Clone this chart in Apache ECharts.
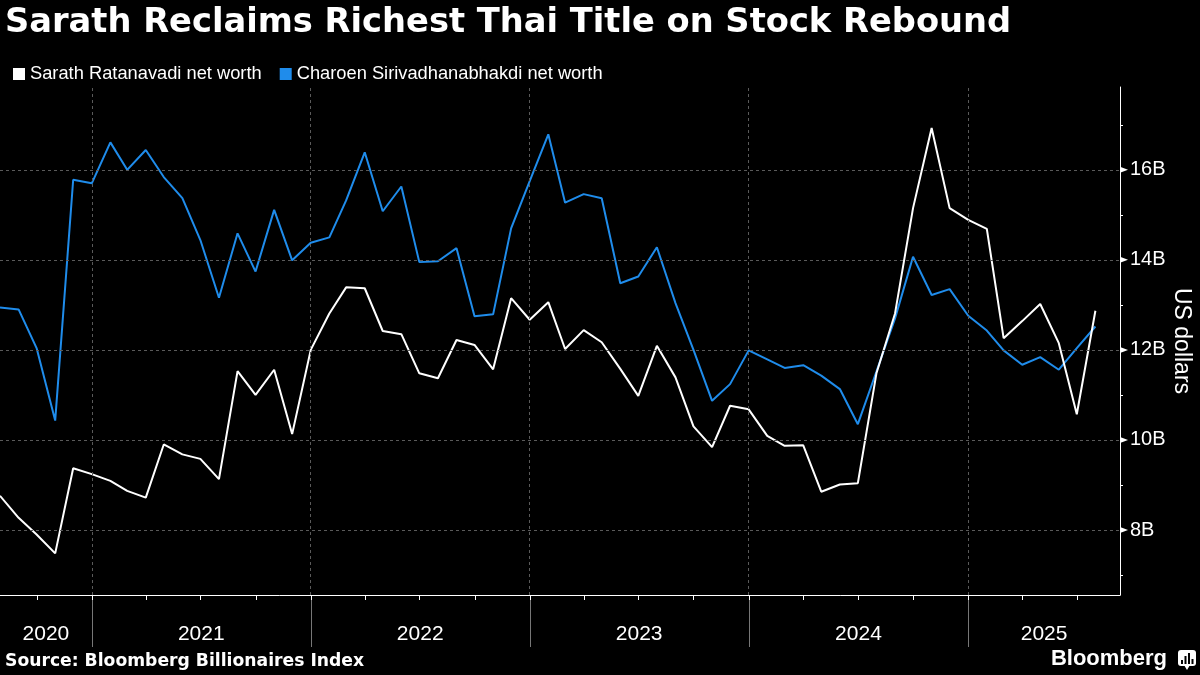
<!DOCTYPE html>
<html>
<head>
<meta charset="utf-8">
<script src="https://cdn.jsdelivr.net/npm/echarts@6/dist/echarts.min.js"></script>
<style>
html,body{margin:0;padding:0;background:#000;}
#c{width:1200px;height:675px;}
</style>
</head>
<body>
<div id="c"></div>
<script>
// ---------- data ----------
const months = [
  '2020-08-01','2020-09-01','2020-10-01','2020-11-01','2020-12-01',
  '2021-01-01','2021-02-01','2021-03-01','2021-04-01','2021-05-01','2021-06-01','2021-07-01','2021-08-01','2021-09-01','2021-10-01','2021-11-01','2021-12-01',
  '2022-01-01','2022-02-01','2022-03-01','2022-04-01','2022-05-01','2022-06-01','2022-07-01','2022-08-01','2022-09-01','2022-10-01','2022-11-01','2022-12-01',
  '2023-01-01','2023-02-01','2023-03-01','2023-04-01','2023-05-01','2023-06-01','2023-07-01','2023-08-01','2023-09-01','2023-10-01','2023-11-01','2023-12-01',
  '2024-01-01','2024-02-01','2024-03-01','2024-04-01','2024-05-01','2024-06-01','2024-07-01','2024-08-01','2024-09-01','2024-10-01','2024-11-01','2024-12-01',
  '2025-01-01','2025-02-01','2025-03-01','2025-04-01','2025-05-01','2025-06-01','2025-07-01','2025-08-01'
];
const sarath = [
  8.76, 8.27, 7.90, 7.48, 9.37,
  9.24, 9.09, 8.87, 8.72, 9.90, 9.68, 9.58, 9.13, 11.53, 11.00, 11.56, 10.13,
  12.00, 12.81, 13.39, 13.37, 12.42, 12.35, 11.48, 11.37, 12.22, 12.11, 11.57, 13.15,
  12.67, 13.06, 12.02, 12.44, 12.17, 11.58, 10.98, 12.09, 11.39, 10.30, 9.84, 10.76,
  10.68, 10.09, 9.87, 9.88, 8.85, 9.01, 9.04, 11.48, 12.81, 15.15, 16.93, 15.15,
  14.89, 14.69, 12.26, 12.64, 13.02, 12.15, 10.57, 12.87
];
const charoen = [
  12.94, 12.90, 12.04, 10.43, 15.78,
  15.70, 16.61, 16.00, 16.44, 15.84, 15.37, 14.44, 13.16, 14.59, 13.74, 15.11, 13.99,
  14.38, 14.50, 15.32, 16.39, 15.08, 15.63, 13.95, 13.97, 14.26, 12.75, 12.79, 14.70,
  15.75, 16.79, 15.27, 15.46, 15.37, 13.48, 13.63, 14.28, 13.04, 12.00, 10.87, 11.24,
  11.99, 11.79, 11.60, 11.66, 11.43, 11.13, 10.35, 11.52, 12.70, 14.07, 13.22, 13.35,
  12.76, 12.43, 11.99, 11.67, 11.84, 11.56, 12.04, 12.52
];
const seriesNames = ['Sarath Ratanavadi net worth', 'Charoen Sirivadhanabhakdi net worth'];
const yearLabels = ['2020','2021','2022','2023','2024','2025'];
const yearStarts = ['2020-01-01','2021-01-01','2022-01-01','2023-01-01','2024-01-01','2025-01-01','2026-01-01'];
const quarterTicks = [
  '2020-10-01',
  '2021-01-01','2021-04-01','2021-07-01','2021-10-01',
  '2022-01-01','2022-04-01','2022-07-01','2022-10-01',
  '2023-01-01','2023-04-01','2023-07-01','2023-10-01',
  '2024-01-01','2024-04-01','2024-07-01','2024-10-01',
  '2025-01-01','2025-04-01','2025-07-01'
];
const yMajorTicks = [8, 10, 12, 14, 16];
const yMinorTicks = [7, 9, 11, 13, 15, 17];
const xMinDate = '2020-08-01';
const xMaxDate = '2025-09-11';
const yMin = 6.556;
const yMax = 17.84;

// ---------- chart ----------
const WHITE = '#ffffff';
const BLUE = '#1f8ceb';
const GRID = '#5a5a5a';
const ts = s => new Date(s + 'T00:00:00').getTime();
const xMin = ts(xMinDate), xMax = ts(xMaxDate);

const chart = echarts.init(document.getElementById('c'), null, {renderer: 'canvas'});

const option = {
  backgroundColor: '#000000',
  animation: false,
  grid: {left: 0, right: 80, top: 87, bottom: 80, containLabel: false, outerBoundsMode: 'none'},
  legend: {
    data: seriesNames,
    left: 8, top: 60,
    icon: 'rect', itemWidth: 12, itemHeight: 12, itemGap: 18,
    textStyle: {color: WHITE, fontSize: 18.3, fontFamily: 'Liberation Sans'},
    selectedMode: false
  },
  xAxis: {
    type: 'time', min: xMin, max: xMax,
    axisLine: {show: true, onZero: false, lineStyle: {color: WHITE, width: 1}},
    axisTick: {show: false},
    axisLabel: {show: false},
    splitLine: {show: false}
  },
  yAxis: {
    type: 'value', position: 'right', min: yMin, max: yMax,
    axisLine: {show: true, onZero: false, lineStyle: {color: WHITE, width: 1}},
    axisTick: {show: true, customValues: yMinorTicks, length: 3, lineStyle: {color: WHITE}},
    axisLabel: {
      customValues: yMajorTicks, formatter: v => v + 'B',
      color: WHITE, fontSize: 20, fontFamily: 'Liberation Sans', margin: 10
    },
    splitLine: {show: false},
    name: 'US dollars', nameLocation: 'middle', nameRotate: -90, nameGap: 50,
    nameMoveOverlap: false,
    nameTextStyle: {color: WHITE, fontSize: 23, fontFamily: 'Liberation Sans'}
  },
  series: [
    {
      name: 'gridlines', type: 'line', data: [], z: 1, silent: true,
      markLine: {
        silent: true, symbol: ['none', 'none'], label: {show: false}, animation: false,
        lineStyle: {color: GRID, type: [3, 3], width: 1},
        emphasis: {disabled: true},
        data: [
          ...yMajorTicks.map(v => ({yAxis: v})),
          ...yearStarts.filter(d => ts(d) > xMin && ts(d) < xMax).map(d => ({xAxis: ts(d)}))
        ]
      }
    },
    {
      name: seriesNames[0], type: 'line', z: 3,
      data: months.map((m, i) => [ts(m), sarath[i]]),
      showSymbol: false, symbol: 'none',
      color: WHITE, itemStyle: {color: WHITE},
      lineStyle: {color: WHITE, width: 2}
    },
    {
      name: seriesNames[1], type: 'line', z: 2,
      data: months.map((m, i) => [ts(m), charoen[i]]),
      showSymbol: false, symbol: 'none',
      color: BLUE, itemStyle: {color: BLUE},
      lineStyle: {color: BLUE, width: 2}
    }
  ]
};
chart.setOption(option);

// ---------- decorations placed with the library's own scales ----------
const px = d => chart.convertToPixel({xAxisIndex: 0}, typeof d === 'string' ? ts(d) : d);
const py = v => chart.convertToPixel({yAxisIndex: 0}, v);
const axisY = py(yMin);
const axisX = px(xMax);
const g = [];

// title
g.push({type: 'text', x: 5, y: 23.5, z: 100, style: {
  text: 'Sarath Reclaims Richest Thai Title on Stock Rebound',
  fill: WHITE, fontFamily: 'DejaVu Sans', fontWeight: 'bold', fontSize: 33.7,
  align: 'left', verticalAlign: 'middle'}});

// year labels & separators
for (let i = 0; i < yearLabels.length; i++) {
  const a = Math.max(ts(yearStarts[i]), xMin);
  const b = Math.min(ts(yearStarts[i + 1]), xMax);
  const cx = (px(a) + px(b)) / 2;
  g.push({type: 'text', x: cx, y: 634.5, z: 100, style: {
    text: yearLabels[i], fill: WHITE, fontFamily: 'Liberation Sans', fontSize: 21,
    align: 'center', verticalAlign: 'middle'}});
}
yearStarts.forEach(d => {
  const t = ts(d);
  if (t <= xMin || t >= xMax) return;
  const x = Math.round(px(t)) + 0.5;
  g.push({type: 'line', z: 100, shape: {x1: x, y1: axisY, x2: x, y2: axisY + 52},
    style: {stroke: '#777777', lineWidth: 1}});
});
quarterTicks.forEach(d => {
  const x = Math.round(px(d)) + 0.5;
  g.push({type: 'line', z: 100, shape: {x1: x, y1: axisY, x2: x, y2: axisY + 5},
    style: {stroke: WHITE, lineWidth: 1}});
});

// major y tick markers (small triangles)
yMajorTicks.forEach(v => {
  const y = py(v);
  g.push({type: 'polygon', z: 100, shape: {points: [[axisX, y - 3], [axisX + 8, y], [axisX, y + 3]]},
    style: {fill: WHITE}});
});

// footer
g.push({type: 'text', x: 5, y: 662, z: 100, style: {
  text: 'Source: Bloomberg Billionaires Index', fill: WHITE,
  fontFamily: 'DejaVu Sans', fontWeight: 'bold', fontSize: 17.2,
  align: 'left', verticalAlign: 'middle'}});
g.push({type: 'text', x: 1167, y: 659, z: 100, style: {
  text: 'Bloomberg', fill: WHITE,
  fontFamily: 'Liberation Sans', fontWeight: 'bold', fontSize: 22,
  align: 'right', verticalAlign: 'middle'}});
g.push({type: 'rect', z: 100, shape: {x: 1178, y: 650, width: 18, height: 16, r: 3}, style: {fill: WHITE}});
g.push({type: 'polygon', z: 100, shape: {points: [[1184, 665], [1190, 665], [1187, 670]]}, style: {fill: WHITE}});
[[1181, 660, 4], [1184.5, 656, 8], [1188, 653, 11], [1191.5, 659, 5]].forEach(b => {
  g.push({type: 'rect', z: 101, shape: {x: b[0], y: b[1], width: 2, height: b[2]}, style: {fill: '#000'}});
});

chart.setOption({graphic: g});
</script>
</body>
</html>
